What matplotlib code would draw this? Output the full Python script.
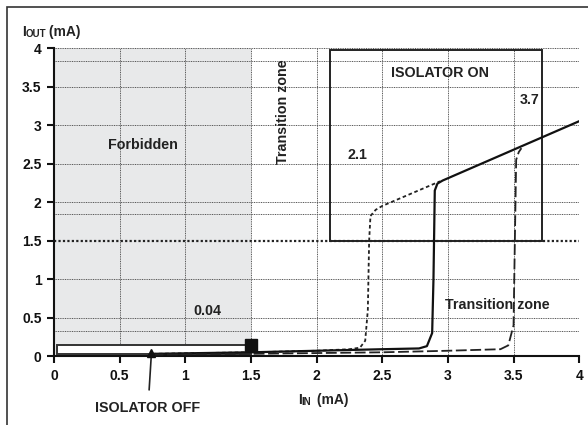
import matplotlib
matplotlib.use("Agg")
import matplotlib.pyplot as plt
from matplotlib.patches import Rectangle

plt.rcParams['font.family'] = ['Liberation Sans', 'DejaVu Sans']
plt.rcParams['font.weight'] = 'bold'

# Data
x_ticks = [0, 0.5, 1, 1.5, 2, 2.5, 3, 3.5, 4]
x_tick_labels = ['0', '0.5', '1', '1.5', '2', '2.5', '3', '3.5', '4']
y_ticks = [0, 0.5, 1, 1.5, 2, 2.5, 3, 3.5, 4]
y_tick_labels = ['0', '0.5', '1', '1.5', '2', '2.5', '3', '3.5', '4']
extra_h_lines = [0.33, 1.84, 3.83]

short_dash_x = [0.75, 1.5, 2.0, 2.25, 2.33, 2.37, 2.39, 2.4, 2.41, 2.45, 2.5, 2.94]
short_dash_y = [0.03, 0.05, 0.07, 0.09, 0.11, 0.2, 0.6, 1.5, 1.82, 1.9, 1.95, 2.27]

solid_x = [0.75, 1.5, 2.0, 2.5, 2.78, 2.84, 2.88, 2.89, 2.9, 2.92, 2.96, 4.0]
solid_y = [0.03, 0.05, 0.07, 0.09, 0.10, 0.13, 0.3, 1.0, 2.15, 2.24, 2.28, 3.05]

long_dash_x = [0.75, 1.5, 2.0, 2.5, 3.0, 3.4, 3.46, 3.5, 3.51, 3.52, 3.54, 3.56]
long_dash_y = [0.02, 0.03, 0.04, 0.05, 0.07, 0.09, 0.14, 0.4, 1.5, 2.55, 2.65, 2.70]

forbidden_x = [0, 1.5]
off_box = [0.02, 1.5, 0.03, 0.14]   # x0, x1, y0, y1
on_box = [2.1, 3.72, 1.5, 3.98]
square_pt = (1.5, 0.14)
triangle_pt = (0.74, 0.04)

fig = plt.figure(figsize=(5.88, 4.25), dpi=100)
ax = fig.add_axes([0.092, 0.162, 0.893, 0.725])

# figure frame
fig.patches.append(Rectangle((7/588, -0.1), 1.2, 1 - 7/425 + 0.1, transform=fig.transFigure,
                             fill=False, edgecolor='#333333', linewidth=1.2))

ax.set_xlim(0, 4)
ax.set_ylim(0, 4)

ax.axvspan(forbidden_x[0], forbidden_x[1], ymin=0, ymax=1, facecolor='#e8e9ea', edgecolor='none', zorder=0)

grid_kw = dict(color='#555555', linestyle=(0, (1, 0.8)), linewidth=0.7, zorder=1)
for xv in x_ticks[1:]:
    ax.axvline(xv, **grid_kw)
for yv in y_ticks[1:] + extra_h_lines:
    if yv == 1.5:
        continue
    ax.axhline(yv, **grid_kw)
ax.axhline(1.5, color='#222222', linestyle=(0, (1, 1)), linewidth=1.6, zorder=1)

# boxes
ax.add_patch(Rectangle((on_box[0], on_box[2]), on_box[1]-on_box[0], on_box[3]-on_box[2],
                       fill=False, edgecolor='#222222', linewidth=1.4, zorder=3))
ax.add_patch(Rectangle((off_box[0], off_box[2]), off_box[1]-off_box[0], off_box[3]-off_box[2],
                       facecolor='white', edgecolor='#333333', linewidth=1.4, zorder=3))

ax.plot(short_dash_x, short_dash_y, color='#222222', linestyle=(0, (2, 1.5)), linewidth=1.3, zorder=4)
ax.plot(solid_x, solid_y, color='#111111', linestyle='-', linewidth=1.6, zorder=4)
ax.plot(long_dash_x, long_dash_y, color='#222222', linestyle=(0, (6, 2)), linewidth=1.3, zorder=4)

ax.plot([square_pt[0]], [square_pt[1]], marker='s', markersize=8, color='#111111', zorder=5, clip_on=False)
ax.plot([triangle_pt[0]], [triangle_pt[1]], marker='^', markersize=6, color='#111111', zorder=5, clip_on=False)

for s in ['top', 'right']:
    ax.spines[s].set_visible(False)
for s in ['left', 'bottom']:
    ax.spines[s].set_linewidth(1.5)
    ax.spines[s].set_color('#111111')

ax.set_xticks(x_ticks)
ax.set_xticklabels(x_tick_labels)
ax.set_yticks(y_ticks)
ax.set_yticklabels(y_tick_labels)
ax.tick_params(axis='both', direction='out', length=5, width=1.5, labelsize=10, pad=4, colors='#111111')
for lab in ax.get_xticklabels() + ax.get_yticklabels():
    lab.set_fontweight('bold')

tk = dict(fontsize=10.3, fontweight='bold', color='#222222')
ax.text(0.68, 2.74, 'Forbidden', ha='center', va='center', **tk)
ax.text(1.74, 3.17, 'Transition zone', ha='center', va='center', rotation=90, **tk)
ax.text(2.94, 3.68, 'ISOLATOR ON', ha='center', va='center', **tk)
ax.text(3.62, 3.32, '3.7', ha='center', va='center', **tk)
ax.text(2.31, 2.61, '2.1', ha='center', va='center', **tk)
ax.text(1.17, 0.58, '0.04', ha='center', va='center', **tk)
ax.text(3.38, 0.66, 'Transition zone', ha='center', va='center', **tk)

# ISOLATOR OFF annotation
ax.annotate('ISOLATOR OFF', xy=(triangle_pt[0], 0.0), xycoords='data',
            xytext=(148/588, 1 - 408/425), textcoords='figure fraction',
            ha='center', va='center', fontsize=10.3, fontweight='bold', color='#222222',
            arrowprops=dict(arrowstyle='-', color='#222222', linewidth=1.2,
                            shrinkA=6, shrinkB=0))

# axis titles with small caps parts
t1 = fig.text(22/588, 1 - 32/425, 'I', ha='left', va='center', fontsize=10, fontweight='bold', color='#222222')
ax.annotate('OUT', xy=(1, 0), xycoords=t1, va='bottom', ha='left', fontsize=7, fontweight='bold', color='#222222')
ax.annotate(' (mA)', xy=(1, 0), xycoords=t1, xytext=(14, 0), textcoords='offset points',
            va='bottom', ha='left', fontsize=10, fontweight='bold', color='#222222')

b1 = fig.text(298/588, 1 - 400/425, 'I', ha='left', va='center', fontsize=10, fontweight='bold', color='#222222')
ax.annotate('IN', xy=(1, 0), xycoords=b1, va='bottom', ha='left', fontsize=7, fontweight='bold', color='#222222')
ax.annotate(' (mA)', xy=(1, 0), xycoords=b1, xytext=(8, 0), textcoords='offset points',
            va='bottom', ha='left', fontsize=10, fontweight='bold', color='#222222')

fig.savefig('out.png', dpi=100)
